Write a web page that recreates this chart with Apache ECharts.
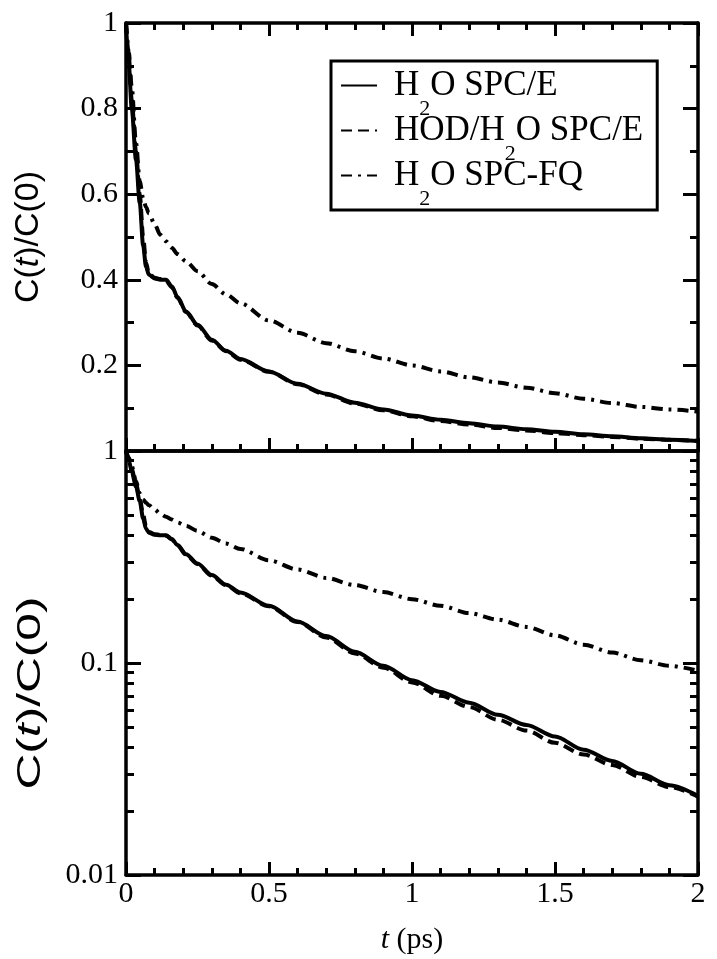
<!DOCTYPE html>
<html>
<head>
<meta charset="utf-8">
<title>C(t)/C(0)</title>
<script src="https://cdn.jsdelivr.net/npm/echarts@6/dist/echarts.min.js"></script>
<style>
  html, body { margin: 0; padding: 0; background: #fff; }
  #main { width: 717px; height: 959px; }
</style>
</head>
<body>
<div id="main"></div>
<script>
// time axis (ps)
var times = [0, 0.01, 0.02, 0.035, 0.048, 0.06, 0.07, 0.08, 0.1, 0.12, 0.14, 0.16, 0.18, 0.21, 0.25, 0.3,
             0.35, 0.4, 0.5, 0.6, 0.7, 0.8, 0.9, 1.0, 1.1, 1.2, 1.3, 1.4, 1.5, 1.6, 1.7, 1.8, 1.9, 2.0];
// H2O SPC/E (solid)
var spceH2O = [1.0, 0.9, 0.8, 0.68, 0.58, 0.48, 0.43, 0.412, 0.403, 0.4, 0.4, 0.385, 0.36, 0.326, 0.295, 0.26,
               0.234, 0.215, 0.186, 0.157, 0.134, 0.113, 0.097, 0.083, 0.073, 0.065, 0.057, 0.051, 0.045, 0.039,
               0.0345, 0.03, 0.0265, 0.0236];
// HOD/H2O SPC/E (dashed)
var spceHOD = [1.0, 0.92, 0.82, 0.7, 0.6, 0.5, 0.44, 0.415, 0.405, 0.402, 0.398, 0.383, 0.358, 0.324, 0.293, 0.258,
               0.233, 0.213, 0.185, 0.156, 0.132, 0.111, 0.095, 0.081, 0.07, 0.062, 0.054, 0.048, 0.042, 0.037,
               0.033, 0.029, 0.026, 0.0234];
// H2O SPC-FQ (dash-dot)
var spcfqH2O = [1.0, 0.93, 0.85, 0.72, 0.63, 0.59, 0.57, 0.555, 0.53, 0.505, 0.49, 0.475, 0.46, 0.443, 0.42, 0.39,
                0.366, 0.345, 0.305, 0.276, 0.252, 0.233, 0.216, 0.2, 0.186, 0.172, 0.16, 0.148, 0.135, 0.122,
                0.112, 0.103, 0.097, 0.092];

var seriesNames = ['H2O SPC/E', 'HOD/H2O SPC/E', 'H2O SPC-FQ'];
var legendText = {
  'H2O SPC/E': '{a|H}{s|2}{a|O SPC/E}',
  'HOD/H2O SPC/E': '{a|HOD/H}{s|2}{a|O SPC/E}',
  'H2O SPC-FQ': '{a|H}{s|2}{a|O SPC-FQ}'
};
var logMajorTicks = [0.01, 0.1, 1];
var logMinorTicks = [0.02, 0.03, 0.04, 0.05, 0.06, 0.07, 0.08, 0.09, 0.2, 0.3, 0.4, 0.5, 0.6, 0.7, 0.8, 0.9];

var black = '#000';
var serif = 'Liberation Serif';
var sans = 'Liberation Sans';

function pairs(vals) {
  return times.map(function (t, i) { return [t, vals[i]]; });
}

function xAxisCfg(grid, pos, labels) {
  var ticks = pos !== 'top' || grid === 0;
  return {
    type: 'value', gridIndex: grid, position: pos, min: 0, max: 2, interval: 0.5,
    axisLine: { show: true, onZero: false, lineStyle: { color: black, width: 3.5 } },
    axisTick: { show: ticks, inside: true, length: 13, lineStyle: { color: black, width: 3 } },
    minorTick: { show: ticks, splitNumber: 5, length: 7, lineStyle: { color: black, width: 3 } },
    axisLabel: { show: labels, margin: 4, color: black, fontFamily: serif, fontSize: 30 },
    splitLine: { show: false }
  };
}

function linYCfg(pos, labels) {
  return {
    type: 'value', gridIndex: 0, position: pos, min: 0, max: 1, interval: 0.2,
    axisLine: { show: true, onZero: false, lineStyle: { color: black, width: 3.5 } },
    axisTick: { inside: true, length: 15, lineStyle: { color: black, width: 3 } },
    minorTick: { show: true, splitNumber: 2, length: 8, lineStyle: { color: black, width: 3 } },
    axisLabel: {
      show: labels, margin: 8, color: black, fontFamily: serif, fontSize: 30,
      formatter: function (v) { return v === 0 ? '' : String(+v.toFixed(1)); }
    },
    splitLine: { show: false }
  };
}

function logYCfg(pos, ticks, len, labels, line) {
  return {
    type: 'log', logBase: 10, gridIndex: 1, position: pos, min: 0.01, max: 1,
    axisLine: { show: line, lineStyle: { color: black, width: 3.5 } },
    axisTick: { show: true, inside: true, length: len, customValues: ticks, lineStyle: { color: black, width: 3 } },
    minorTick: { show: false },
    axisLabel: {
      show: labels, margin: 8, color: black, fontFamily: serif, fontSize: 30,
      customValues: logMajorTicks,
      formatter: function (v) { return String(+(+v).toPrecision(1)); }
    },
    splitLine: { show: false }
  };
}

var yName = '{n|C(}{i|t}{n|)/C(0)}';

var y0 = linYCfg('left', true);
y0.name = yName;
y0.nameLocation = 'middle';
y0.nameGap = 80;
y0.nameTextStyle = {
  rich: {
    n: { fontFamily: sans, fontSize: 34, color: black },
    i: { fontFamily: sans, fontStyle: 'italic', fontSize: 34, color: black }
  }
};

var x2 = xAxisCfg(1, 'bottom', true);
x2.name = '{i|t}{n| (ps)}';
x2.nameLocation = 'middle';
x2.nameGap = 50;
x2.nameTextStyle = {
  rich: {
    n: { fontFamily: serif, fontSize: 30, color: black },
    i: { fontFamily: serif, fontStyle: 'italic', fontSize: 30, color: black }
  }
};

var dashes = ['solid', [11, 6], [11, 6, 3, 6]];
var valueSets = [spceH2O, spceHOD, spcfqH2O];

var series = [];
[0, 1].forEach(function (panel) {
  valueSets.forEach(function (vals, k) {
    series.push({
      name: seriesNames[k], type: 'line',
      xAxisIndex: panel === 0 ? 0 : 2,
      yAxisIndex: panel === 0 ? 0 : 2,
      data: pairs(vals),
      symbol: 'none', showSymbol: false,
      smooth: 0.3, smoothMonotone: 'x',
      lineStyle: { color: black, width: 4, type: dashes[k] },
      itemStyle: { color: black },
      z: 3
    });
  });
});

var chart = echarts.init(document.getElementById('main'));
chart.setOption({
  animation: false,
  backgroundColor: '#fff',
  grid: [
    { left: 126, top: 23, width: 572, height: 428, containLabel: false, outerBoundsMode: 'none' },
    { left: 126, top: 451, width: 572, height: 424, containLabel: false, outerBoundsMode: 'none' }
  ],
  xAxis: [xAxisCfg(0, 'bottom', false), xAxisCfg(0, 'top', false), x2, xAxisCfg(1, 'top', false)],
  yAxis: [
    y0,
    linYCfg('right', false),
    logYCfg('left', logMajorTicks, 15, true, true),
    logYCfg('left', logMinorTicks, 8, false, false),
    logYCfg('right', logMajorTicks, 15, false, true),
    logYCfg('right', logMinorTicks, 8, false, false)
  ],
  // the lower panel's y title is stretched along its length in the original
  graphic: [{
    type: 'text',
    x: 31, y: 693,
    rotation: Math.PI / 2,
    scaleX: 1.46,
    style: {
      text: yName,
      align: 'center', verticalAlign: 'middle',
      rich: {
        n: { fontFamily: sans, fontSize: 34, fill: black },
        i: { fontFamily: sans, fontStyle: 'italic', fontSize: 34, fill: black }
      }
    }
  }],
  legend: {
    data: seriesNames,
    orient: 'vertical',
    left: 331, top: 61,
    padding: [7, 14, 0, 9],
    itemGap: -7,
    itemWidth: 36, itemHeight: 14,
    borderColor: black, borderWidth: 3, backgroundColor: '#fff',
    selectedMode: false,
    itemStyle: { opacity: 0 },
    formatter: function (name) { return legendText[name]; },
    textStyle: {
      padding: [0, 0, 0, 12],
      rich: {
        a: { fontFamily: serif, fontSize: 35, lineHeight: 35, verticalAlign: 'top', color: black },
        s: { fontFamily: serif, fontSize: 22, lineHeight: 22, verticalAlign: 'top', padding: [30, 0, 0, 0], color: black }
      }
    }
  },
  series: series
});
</script>
</body>
</html>
